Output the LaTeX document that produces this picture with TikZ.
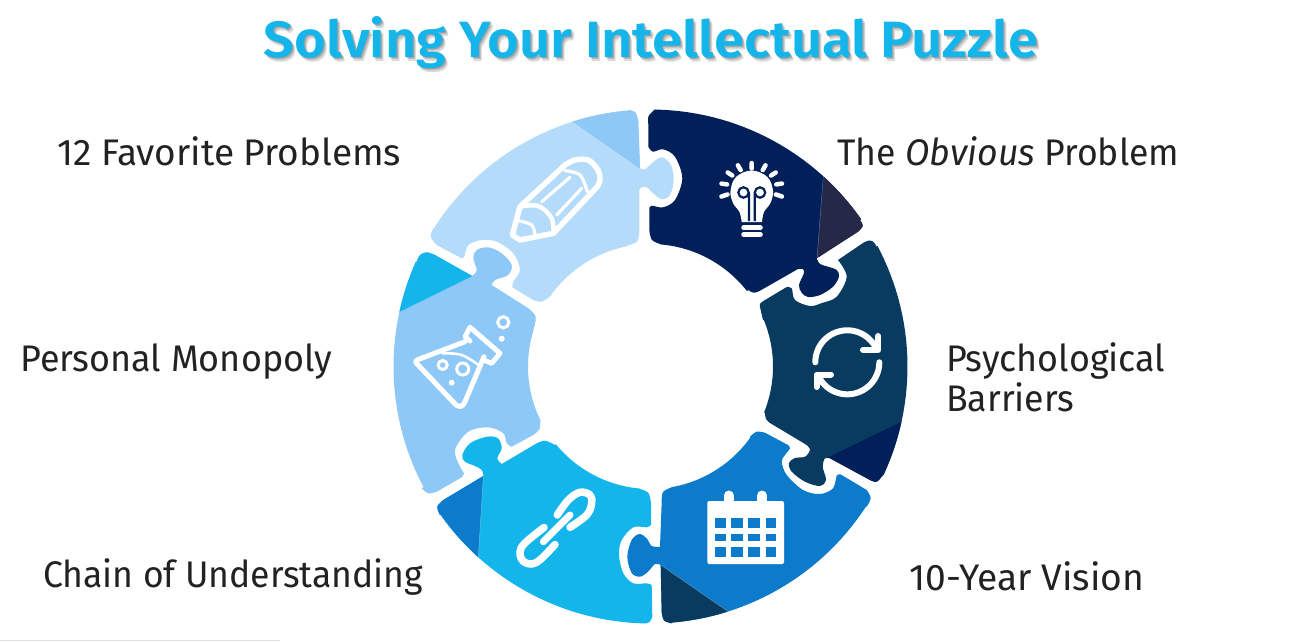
\documentclass[tikz,border=0pt]{standalone}
\usepackage{graphicx}
\usepackage{fontspec}
\setmainfont{Fira Sans}
\newfontfamily\titlefont{Fira Sans SemiBold}
\definecolor{cA}{HTML}{012059}
\definecolor{cAt}{HTML}{262848}
\definecolor{cB}{HTML}{093B61}
\definecolor{cC}{HTML}{0D7BCC}
\definecolor{cD}{HTML}{13B5EA}
\definecolor{cE}{HTML}{8DC8F6}
\definecolor{cF}{HTML}{B5DBFA}
\definecolor{ink}{HTML}{222222}
\newcommand\fitw[2]{\resizebox{#1pt}{\height}{#2}}
\newcommand\OA[2]{-- plot[sharp plot,domain=#1:#2,samples=30] ({650.5+257*sin(\x)},{366.5-257*cos(\x)})}
\newcommand\IA[2]{-- plot[sharp plot,domain=#1:#2,samples=30] ({650.5+122.5*sin(\x)},{366.5-122.5*cos(\x)})}
\tikzset{
  sm/.style={smooth,tension=.55},
  label/.style={anchor=base west,inner sep=0pt,text=ink,font=\fontsize{37}{40}\selectfont},
  titletext/.style={anchor=base,inner sep=0pt,font=\fontsize{51}{54}\selectfont\titlefont},
  shadowtext/.style={titletext,text=black,text opacity=.14},
  seam/.style={white,opacity=.35,line width=.5pt},
  wl/.style={white,line width=#1,line cap=round,line join=round},
  wl/.default=5pt
}
\def\pA{plot[sm] coordinates {(648.3,124)(648.6,116)(655,109.3)} \OA{1}{55}
 -- plot[sm] coordinates {(860,220)(862.7,226)(858,231.7)}
 -- plot[sm] coordinates {(816.7,258.3)(820,264)(828,266.7)(836.7,270)(839,276.7)(833,286.7)(820,295)(808,297)(801.7,292.7)(799,285)(804,273)(802.7,269)(798,269)}
 -- plot[sm] coordinates {(760,290.7)(754,292.7)(748,290)} \IA{52}{4.4}
 -- plot[sm] coordinates {(660,244)(652,240)(649.5,232)}
 -- plot[sm] coordinates {(649.3,208.3)(651.7,205.7)(663,207.3)(675,200)(682.3,178.3)(675,156.7)(663,149.3)(653,151.7)(648.3,146.7)} -- cycle}
\def\pB{plot[sm] coordinates {(838,260)(846.7,276.7)(836.7,296.7)(822,303)(810,306)(795,300)(791.7,288.3)(786.7,287)}
 -- plot[sm] coordinates {(765,300)(760,304)(760.7,310)(763,320)} \IA{67.5}{112}
 -- plot[sm] coordinates {(765,413)(766,419)(770,423)}
 -- plot[sm] coordinates {(806.7,445)(810,450)(805,456.7)(795,458)(789,463)(791.7,471.7)(805,481.7)(820,486)(826,480)(822.7,466.7)(825,458.3)(830,458.3)}
 -- plot[sm] coordinates {(870,480)(876.7,481.7)(883,475)} \OA{115}{62}
 -- plot[sm] coordinates {(876.7,246.7)(873,241.5)(868,240.7)(863,243)} -- cycle}
\def\pC{plot[sm] coordinates {(661.7,501.7)(663,492)(671.7,487.3)} \IA{170}{125.2}
 -- plot[sm] coordinates {(750,436.7)(756.7,431.7)(765,432.7)}
 -- plot[sm] coordinates {(788,445)(790,448.3)(785,455)(781.7,461.7)(786.7,475)(803,490)(820,494)(833,488.3)(837,475)(841.7,475)}
 -- plot[sm] coordinates {(866.7,490)(870.7,498)(866.7,506.7)} \OA{123}{175.3}
 -- plot[sm] coordinates {(671.7,623.3)(664,620.5)(661.7,612)}
 -- plot[sm] coordinates {(660.7,565)(655,564)(648,571.7)(640,576.7)(631.7,573)(627.3,556.7)(631.7,540)(639.3,534)(646.7,538.3)(651.7,546)(660,546.7)} -- cycle}
\def\pD{plot[sm] coordinates {(440,515)(437.3,506.7)(443.3,500)}
 -- plot[sm] coordinates {(483.3,476)(481.7,470)(475,466)(465,461.7)(462.3,455)(470,443.3)(486.7,436.7)(498,438.3)(501.7,448.3)(497.3,458.3)(501.7,464)}
 -- plot[sm] coordinates {(536.7,443.3)(545,440.7)(555,445)} \IA{230.6}{185}
 -- plot[sm] coordinates {(640,489)(648.5,493)(651,503.3)}
 -- plot[sm] coordinates {(651,525)(646.7,527.3)(633.3,527.3)(621.7,540)(619,555)(623.3,573.3)(633.3,583.3)(646.7,583.3)(651.7,585)}
 -- plot[sm] coordinates {(652.3,616.7)(650,621.5)(646.7,623.3)} \OA{180.8}{234.8} -- cycle}
\def\pE{plot[sm] coordinates {(416.7,261.7)(420,255)(426.7,252.3)(435,255)}
 -- plot[sm] coordinates {(472.3,276)(476.7,270)(473.3,258)(476.7,250)(488.3,247.3)(501.7,253.3)(511.7,265)(508,275)(495,280)(491.7,285)}
 -- plot[sm] coordinates {(528.3,308.3)(535.7,316.7)(533.3,330)} \IA{287}{243.5}
 -- plot[sm] coordinates {(540,421.7)(539.5,429)(533.3,435)}
 -- plot[sm] coordinates {(511.7,446.7)(506.7,443.3)(503.3,433.3)(488.3,427.3)(468.3,431.7)(455,450)(460,466.7)(464,473.3)(461.7,477.3)}
 -- plot[sm] coordinates {(436.7,491.7)(428.3,493.3)(421.7,488.3)} \OA{242}{294.1} -- cycle}
\def\pF{plot[sm] coordinates {(628.3,110)(635.5,112.5)(638.3,121.7)}
 -- plot[sm] coordinates {(640,168.3)(645,169.3)(651.7,163.3)(661.7,157.3)(671,165)(673.7,180)(670,195)(661.7,199.3)(653.3,193.3)(646.7,187.3)(641.7,187.3)(639.3,190)}
 -- plot[sm] coordinates {(639.3,233.3)(636.7,241.7)(626.7,246)} \IA{348.8}{305.9}
 -- plot[sm] coordinates {(551.7,295)(541.7,301.7)(533.3,300)}
 -- plot[sm] coordinates {(512.3,287.3)(513.3,281.7)(520,270)(513.3,253.3)(496.7,241.7)(481.7,240)(468.3,245)(464.3,256.7)(461.7,258.3)}
 -- plot[sm] coordinates {(436.7,245)(430.7,236.7)(433.3,228.3)} \OA{302.5}{355.1} -- cycle}
\begin{document}
\begin{tikzpicture}[x=1pt,y=-1pt]
\useasboundingbox (0,0) rectangle (1302,641);
\fill[white] (0,0) rectangle (1302,641);
\draw[black!12,line width=1pt] (0,640.5) -- (280,640.5);
% pieces
\begin{scope}\fill[cA] \pA; \clip \pA;
 \fill[cAt] (825,165) -- (817,258.3) -- (900,258.3) -- (900,165) -- cycle;
 \draw[seam] (823.3,176) -- (817,258.3);
\end{scope}
\begin{scope}\fill[cB] \pB; \clip \pB;
 \fill[cA] (826,458.3) -- (925,410.4) -- (925,500) -- (832,500) -- cycle;
\end{scope}
\begin{scope}\fill[cC] \pC; \clip \pC;
 \fill[cB] (660.7,565) -- (750,626.7) -- (750,640) -- (660.7,640) -- cycle;
 \draw[seam] (660.7,565) -- (728.3,611.7);
\end{scope}
\begin{scope}\fill[cD] \pD; \clip \pD;
 \fill[cC] (483.3,476) -- (477.5,570) -- (420,570) -- (420,476) -- cycle;
 \draw[seam] (483.3,476) -- (478.3,557.7);
\end{scope}
\begin{scope}\fill[cE] \pE; \clip \pE;
 \fill[cD] (472.3,276) -- (385,319) -- (385,240) -- (472.3,240) -- cycle;
\end{scope}
\begin{scope}\fill[cF] \pF; \clip \pF;
 \fill[cE] (560,113.5) -- (640,169.3) -- (640,100) -- (560,100) -- cycle;
 \draw[seam] (571.7,121.7) -- (640,169.3);
\end{scope}
% bulb
\fill[white] plot[smooth,tension=.6] coordinates {(741.7,222)(739.5,212)(733,203)(730.5,191)(736,177)(751.7,170.5)(767.4,177)(773,191)(770.4,203)(764,212)(762,222)} -- cycle;
\draw[cA,line width=2.2pt] (749,221) -- (749,193) (754.7,221) -- (754.7,193)
  (743.5,192.5) circle (5.2) (760,192.5) circle (5.2);
\draw[wl=4.5pt] (743.5,227.7) -- (760.5,227.7) (743.5,234.5) -- (760.5,234.5);
\draw[wl=4.5pt] (751.7,163) -- (751.7,168.5)
 (737.9,165.3) -- (740.7,170.1) (727.7,172.5) -- (732.3,175.5) (721.5,183.6) -- (727.1,184.4) (721.5,196.5) -- (727.5,194.5)
 (765.5,165.3) -- (762.7,170.1) (775.7,172.5) -- (771.1,175.5) (781.9,183.6) -- (776.3,184.4) (781.9,196.5) -- (775.9,194.5);
% cycle
\draw[wl=6pt] plot[sharp plot,domain=-90:66,samples=40] ({847.3+32*sin(\x)},{362.3-32*cos(\x)});
\draw[wl=6pt] plot[sharp plot,domain=90:246,samples=40] ({847.3+32*sin(\x)},{362.3-32*cos(\x)});
\draw[wl=6pt] (878.3,336) -- (878.3,350) -- (863,350);
\draw[wl=6pt] (816.5,387) -- (816.5,374.5) -- (831,374.5);
% calendar
\draw[wl=10pt] (728.7,495.5) -- (728.7,505) (762,495.5) -- (762,505);
\fill[white,rounded corners=2pt] (707.3,501) rectangle (784,564);
\foreach \xa/\xb in {715/725.7,731/743.3,748.3/760,765.7/776.3}
  \foreach \ya/\yb in {518.3/528.3,534/541,546.7/556.7}
    \fill[cC] (\xa,\ya) rectangle (\xb,\yb);
% link
\draw[wl=7.5pt] plot[smooth,tension=.6] coordinates {(544,527.5)(525,543)(520,552)(523,561)(532,564)(541,559)(555,544.5)};
\draw[wl=7.5pt] plot[smooth,tension=.6] coordinates {(557.3,515)(568.3,500)(580,492.3)(590,495)(591.7,503.3)(586.7,515)(570,527.3)};
\draw[wl=7pt] (543.3,541.7) -- (570,515);
% flask
\draw[wl] (470,327.3) -- (500,353.3) -- (491.7,363.3) -- (486,361) (470,327.3) -- (465,336.7) -- (470,341);
\draw[wl,rounded corners=3pt] (465,341.7) -- (414.3,361) -- (458,407) -- (463.3,405.7) -- (484,356.7);
\draw[white,line width=2.6pt] plot[smooth,tension=.6] coordinates {(441.7,353.3)(461.7,355)(480,366)};
\draw[white,line width=3pt] (503.3,322.3) circle (5.6) (442.7,365) circle (4.5) (462.7,369) circle (6);
\fill[white] (501.7,338.7) circle (3) (451.7,382.7) circle (3);
% pencil
\draw[wl=5.5pt] plot[smooth,tension=.5] coordinates {(565,165)(575,160)(588.3,160)(598,170)(600,180)(597,187)} -- (553.3,233.3) -- (520,240) -- (512.3,235) -- (520,206.7) -- cycle;
\draw[wl=4.5pt] plot[smooth,tension=.6] coordinates {(520,206.7)(538.3,206)(551.7,218.3)(553.3,233.3)};
\draw[wl=3.2pt] plot[smooth,tension=.6] coordinates {(565,170.7)(580,175)(587.3,191.7)};
\draw[wl=3.2pt] (541.7,201.7) -- (570,177.3) (556.7,215) -- (581.7,188.3);
\draw[wl=3.2pt] plot[smooth,tension=.6] coordinates {(518.3,220.7)(531.7,225)(535,235)};
% text
\node[shadowtext] (shadowa) at (652,58) {\fitw{774}{Solving Your Intellectual Puzzle}};
\node[shadowtext] (shadowb) at (653,59.5) {\fitw{774}{Solving Your Intellectual Puzzle}};
\node[shadowtext] (shadowc) at (654,61) {\fitw{774}{Solving Your Intellectual Puzzle}};
\node[titletext,text=cD] (title) at (651,57) {\fitw{774}{Solving Your Intellectual Puzzle}};
\node[label] (fav) at (57,165) {\fitw{344}{12 Favorite Problems}};
\node[label] (obv) at (837,165) {\fitw{342}{The \textit{Obvious} Problem}};
\node[label] (mono) at (20,371) {\fitw{312}{Personal Monopoly}};
\node[label] (psy) at (946,371) {\fitw{219}{Psychological}};
\node[label] (bar) at (946,411) {\fitw{128}{Barriers}};
\node[label] (chain) at (43,587) {\fitw{380}{Chain of Understanding}};
\node[label] (vis) at (909,590) {\fitw{235}{10-Year Vision}};
\end{tikzpicture}
\end{document}
